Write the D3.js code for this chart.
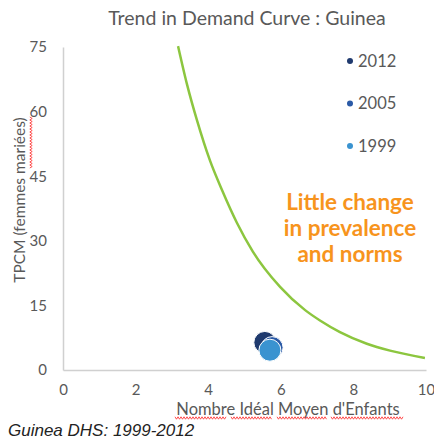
<!DOCTYPE html>
<html><head><meta charset="utf-8">
<script src="https://cdn.jsdelivr.net/npm/d3@7"></script>
<style>body{margin:0;background:#fff}svg{display:block}</style>
</head><body><svg id="c" width="434" height="439"></svg>
<script>
// Demand curve points
const curveX = [3.17, 3.42, 3.69, 4.05, 4.38, 4.79, 5.23, 5.98, 6.67, 7.08, 7.63, 8.37, 9.01, 9.97];
const curveY = [75.2, 66.2, 58.0, 48.6, 41.8, 34.2, 27.5, 19.3, 13.9, 11.5, 8.8, 6.1, 4.5, 2.8];
// Survey points
const years = ["2012", "2005", "1999"];
const idealKids = [5.56, 5.76, 5.70];
const tpcm = [6.4, 5.2, 4.6];
const dotColors = ["#1f3a6e", "#2b5aa6", "#3a93d0"];
const xTicks = [0, 2, 4, 6, 8, 10];
const yTicks = [0, 15, 30, 45, 60, 75];

const svg = d3.select("#c");
const x = d3.scaleLinear().domain([0, 10]).range([63, 426]);
const y = d3.scaleLinear().domain([0, 75]).range([370, 47]);
const grey = "#595959";
const font = "Lato, 'Open Sans', sans-serif";

// Title
svg.append("text").attr("x", 247).attr("y", 25).attr("text-anchor", "middle")
  .attr("font-family", font).attr("font-size", 19.5).attr("fill", grey)
  .text("Trend in Demand Curve : Guinea");

// Axes
const xAxis = svg.append("g").attr("transform", "translate(0,370)")
  .call(d3.axisBottom(x).tickValues(xTicks).tickSize(0).tickPadding(14));
const yAxis = svg.append("g").attr("transform", "translate(63,0)")
  .call(d3.axisLeft(y).tickValues(yTicks).tickSize(0).tickPadding(16));
[xAxis, yAxis].forEach(g => {
  g.select(".domain").attr("stroke", "#d0d0d0").attr("stroke-width", 1.5);
  g.selectAll("text").attr("font-family", font).attr("font-size", 15).attr("fill", grey);
});

// Axis titles
svg.append("text").attr("x", 288).attr("y", 415).attr("text-anchor", "middle")
  .attr("font-family", font).attr("font-size", 16.5).attr("fill", grey)
  .text("Nombre Idéal Moyen d'Enfants");
svg.append("text").attr("transform", "translate(25,200) rotate(-90)").attr("text-anchor", "middle")
  .attr("font-family", font).attr("font-size", 15.5).attr("fill", grey)
  .text("TPCM (femmes mariées)");

// spell-check wavy underlines
function wavy(x0, y0, len, vertical) {
  let d = "";
  for (let i = 0; i <= len; i += 1.5) {
    const o = (Math.round(i / 1.5) % 2 ? 1.2 : -1.2);
    d += (i === 0 ? "M" : "L") + (vertical ? (x0 + o) + "," + (y0 - i) : (x0 + i) + "," + (y0 + o));
  }
  return d;
}
[[175, 418, 52], [231, 418, 41], [277, 418, 50], [331, 418, 72]].forEach(s =>
  svg.append("path").attr("d", wavy(s[0], s[1], s[2], false)).attr("fill", "none")
    .attr("stroke", "#ff3b3b").attr("stroke-width", 0.9));
svg.append("path").attr("d", wavy(31, 168, 52, true)).attr("fill", "none")
  .attr("stroke", "#ff3b3b").attr("stroke-width", 0.9);

// Curve
const pts = curveX.map((v, i) => [v, curveY[i]]);
svg.append("path").datum(pts)
  .attr("d", d3.line().x(d => x(d[0])).y(d => y(d[1])).curve(d3.curveMonotoneX))
  .attr("fill", "none").attr("stroke", "#8cc63f").attr("stroke-width", 2.5);

// Dots
svg.append("g").selectAll("circle").data(years).join("circle")
  .attr("cx", (d, i) => x(idealKids[i])).attr("cy", (d, i) => y(tpcm[i]))
  .attr("r", 11).attr("fill", (d, i) => dotColors[i])
  .attr("stroke", "#fff").attr("stroke-width", 1);

// Legend
const lg = svg.append("g").selectAll("g").data(years).join("g")
  .attr("transform", (d, i) => `translate(350,${61 + i * 42.5})`);
lg.append("circle").attr("r", 3).attr("fill", (d, i) => dotColors[i]);
lg.append("text").attr("x", 8).attr("y", 5.5).attr("font-family", font)
  .attr("font-size", 16.5).attr("fill", grey).text(d => d);

// Annotation
const ann = ["Little change", "in prevalence", "and norms"];
svg.append("g").selectAll("text").data(ann).join("text")
  .attr("x", 350).attr("y", (d, i) => 210 + i * 26).attr("text-anchor", "middle")
  .attr("font-family", font).attr("font-weight", "bold").attr("font-size", 22.5)
  .attr("fill", "#f7941d").text(d => d);

// Source
svg.append("text").attr("x", 8).attr("y", 436)
  .attr("font-family", "'Liberation Sans', sans-serif").attr("font-style", "italic")
  .attr("font-size", 17).attr("fill", "#222").text("Guinea DHS: 1999-2012");
</script></body></html>
